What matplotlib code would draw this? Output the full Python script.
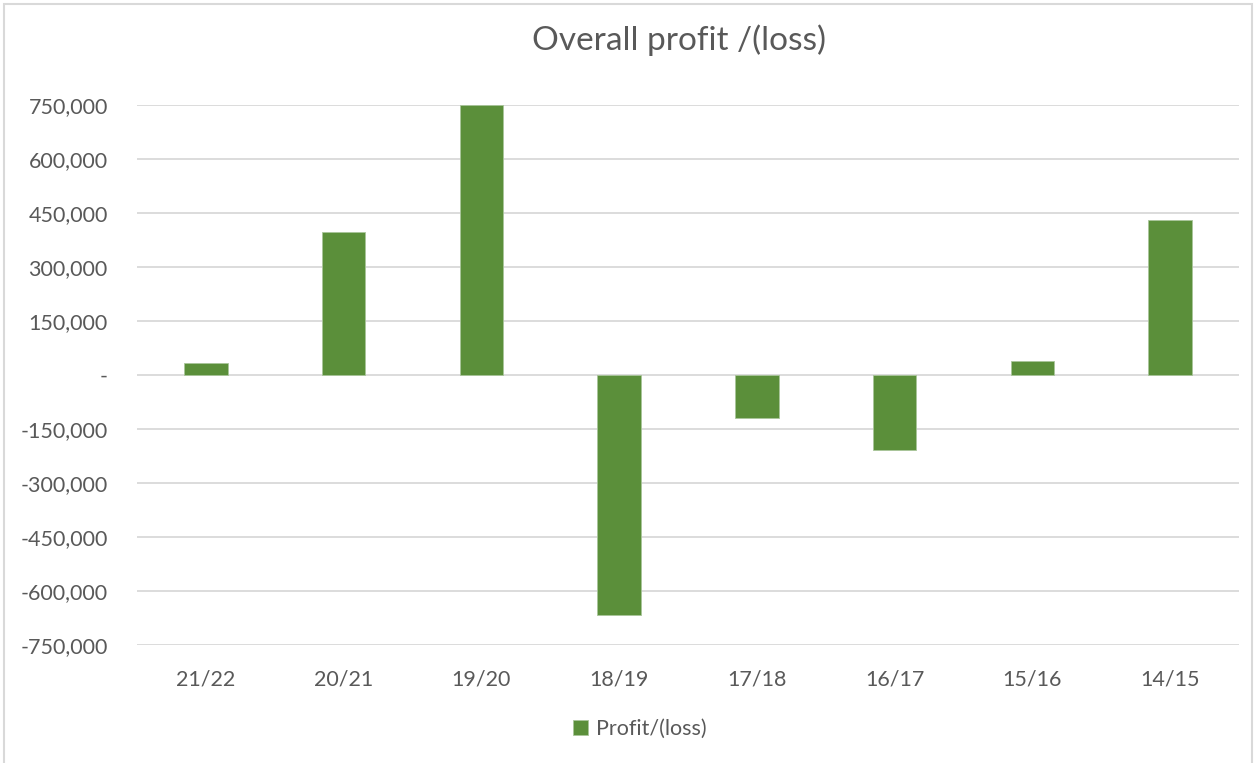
import matplotlib.pyplot as plt
import matplotlib.patches as patches
from matplotlib.ticker import FuncFormatter
import numpy as np

years = ['21/22', '20/21', '19/20', '18/19', '17/18', '16/17', '15/16', '14/15']
profit = [32500, 397000, 750000, -667000, -120000, -208000, 40000, 430000]
yticks = [-750000, -600000, -450000, -300000, -150000, 0, 150000, 300000, 450000, 600000, 750000]

plt.rcParams['font.family'] = ['Lato', 'DejaVu Sans']
grey = '#595959'
green = '#5B8F3A'

fig = plt.figure(figsize=(12.56, 7.63), dpi=100)
ax = fig.add_axes([137/1256, 1-645/763, (1239-137)/1256, (645-105)/763])

# chart border
fig.patches.append(patches.Rectangle((4/1256, -0.01), 1248/1256, 1-4/763+0.01,
                                     transform=fig.transFigure, fill=False,
                                     edgecolor='#D9D9D9', linewidth=1.5))

x = np.arange(len(years))
ax.bar(x, profit, width=0.315, color=green, edgecolor='#A9C59A', linewidth=0.6,
       label='Profit/(loss)', zorder=3)

def fmt(v, pos):
    if abs(v) < 1:
        return '-'
    return f'{v:,.0f}'

ax.set_ylim(-750000, 750000)
ax.set_xlim(-0.5, len(years) - 0.5)
ax.set_yticks(yticks)
ax.yaxis.set_major_formatter(FuncFormatter(fmt))
ax.set_xticks(x)
ax.set_xticklabels(years)
ax.grid(axis='y', color='#D9D9D9', linewidth=1.3, zorder=0)
ax.tick_params(length=0, labelsize=15.5, labelcolor=grey)
ax.tick_params(axis='y', pad=21)
ax.tick_params(axis='x', pad=18)
for s in ax.spines.values():
    s.set_visible(False)

fig.text(679/1256, 1-40/763, 'Overall profit /(loss)', ha='center', va='center',
         fontsize=24, color=grey)

fig.legend(loc='center', bbox_to_anchor=(640/1256, 1-729/763), frameon=False,
           fontsize=15.5, labelcolor=grey, handlelength=0.7, handleheight=0.7,
           handletextpad=0.35)

fig.savefig('out.png', dpi=100)
